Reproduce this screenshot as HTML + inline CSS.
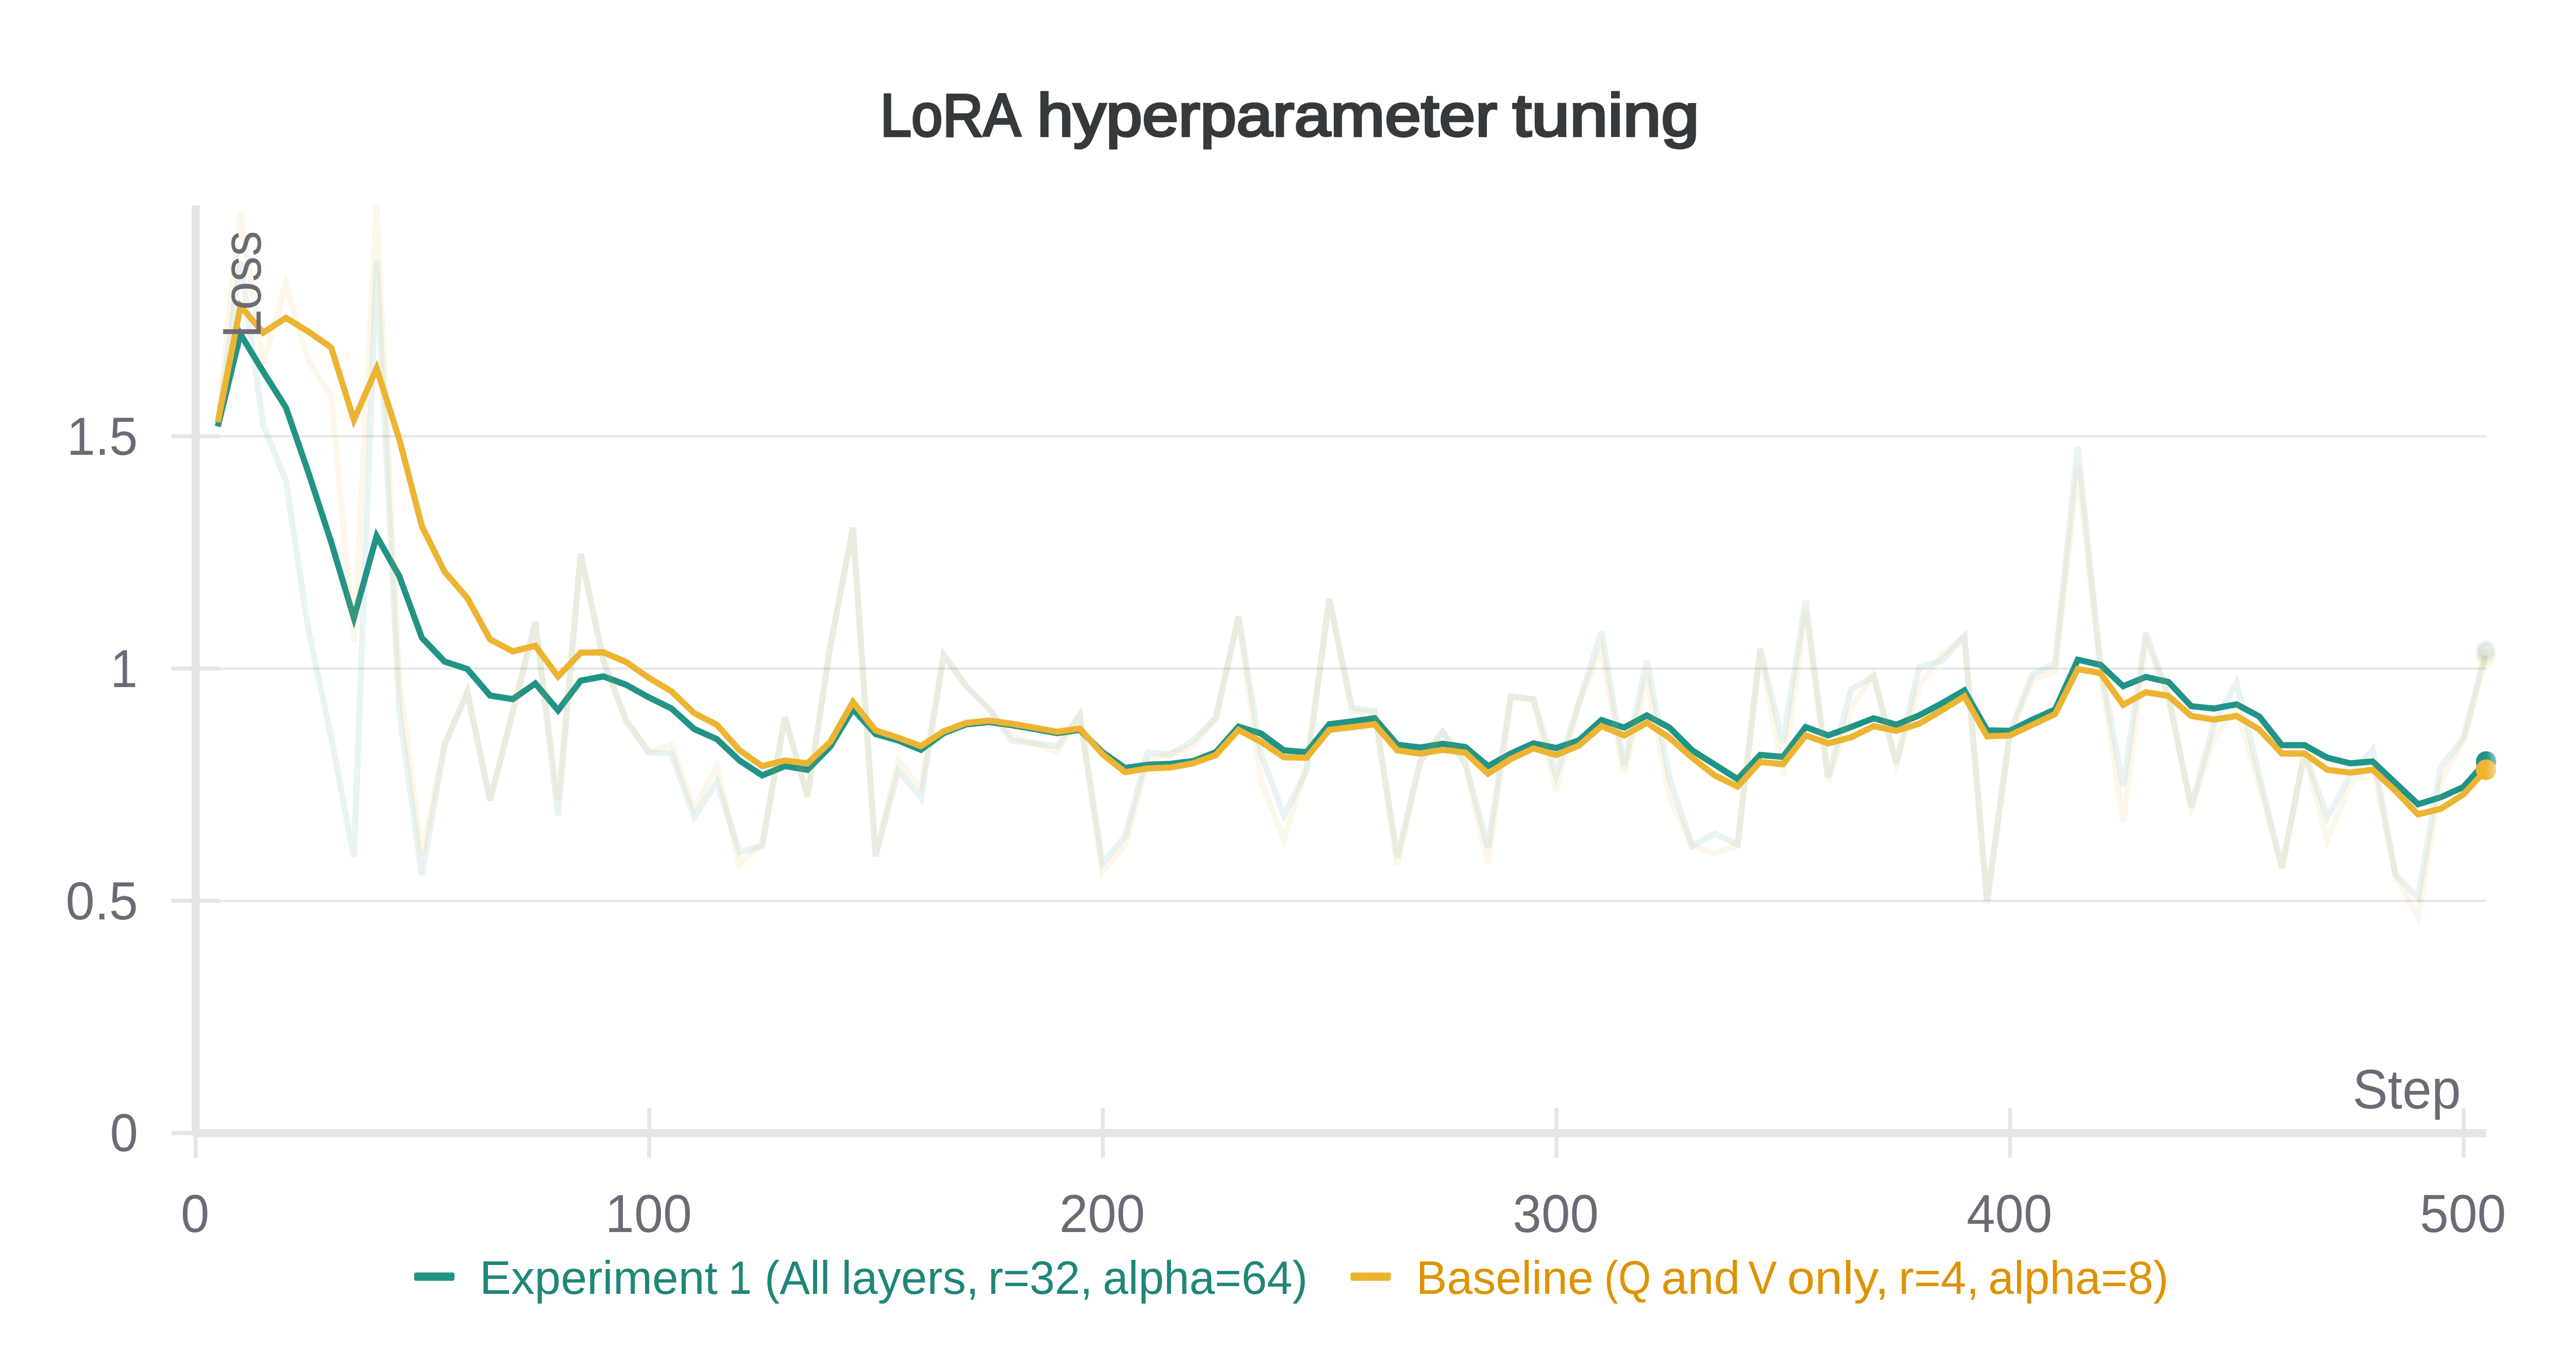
<!DOCTYPE html>
<html><head><meta charset="utf-8"><style>
html,body{margin:0;padding:0;background:#fff;overflow:hidden;width:100%;height:100%;}
svg{display:block;font-family:'Liberation Sans', sans-serif;width:100vw;height:100vh;}
</style></head><body>
<svg width="5056" height="2656" viewBox="0 0 5056 2656" preserveAspectRatio="none">
<rect width="5056" height="2656" fill="#fff"/>
<rect x="392" y="1746.6" width="4488" height="4.8" fill="#e8e8ea"/>
<rect x="392" y="1295.6" width="4488" height="4.8" fill="#e8e8ea"/>
<rect x="392" y="844.6" width="4488" height="4.8" fill="#e8e8ea"/>
<rect x="336" y="2196.0" width="96" height="8" fill="#e6e6e9"/>
<rect x="336" y="1745.0" width="96" height="8" fill="#e6e6e9"/>
<rect x="336" y="1294.0" width="96" height="8" fill="#e6e6e9"/>
<rect x="336" y="843.0" width="96" height="8" fill="#e6e6e9"/>
<rect x="380.1" y="2151" width="7.8" height="97" fill="#e6e6e9"/>
<rect x="1270.4" y="2151" width="7.8" height="97" fill="#e6e6e9"/>
<rect x="2160.7" y="2151" width="7.8" height="97" fill="#e6e6e9"/>
<rect x="3051.0" y="2151" width="7.8" height="97" fill="#e6e6e9"/>
<rect x="3941.3" y="2151" width="7.8" height="97" fill="#e6e6e9"/>
<rect x="4831.6" y="2151" width="7.8" height="97" fill="#e6e6e9"/>
<rect x="376" y="399" width="16" height="1805" fill="#e6e6e9"/>
<rect x="380" y="2192" width="4500" height="16" fill="#e6e6e9"/>
<defs><clipPath id="pc"><rect x="392" y="399" width="4600" height="1793"/></clipPath></defs>
<g clip-path="url(#pc)" fill="none" stroke-width="12" stroke-linejoin="miter" stroke-miterlimit="4">
<path d="M427.5 828.1 L472.0 506.9 L516.6 825.4 L561.1 933.6 L605.6 1224.0 L650.1 1431.5 L694.6 1664.2 L739.2 506.9 L783.7 1381.0 L828.2 1698.5 L872.7 1445.9 L917.2 1344.0 L961.8 1554.2 L1006.3 1381.9 L1050.8 1207.8 L1095.3 1583.0 L1139.8 1075.2 L1184.4 1282.7 L1228.9 1399.0 L1273.4 1460.4 L1317.9 1463.1 L1362.4 1586.6 L1407.0 1518.1 L1451.5 1654.3 L1496.0 1642.6 L1540.5 1392.7 L1585.0 1546.1 L1629.6 1254.7 L1674.1 1024.7 L1718.6 1662.4 L1763.1 1496.4 L1807.6 1548.8 L1852.2 1271.8 L1896.7 1332.3 L1941.2 1376.5 L1985.7 1437.8 L2030.2 1443.2 L2074.8 1448.6 L2119.3 1388.2 L2163.8 1675.9 L2208.3 1623.6 L2252.8 1460.4 L2297.4 1464.9 L2341.9 1437.8 L2386.4 1393.6 L2430.9 1197.0 L2475.4 1464.9 L2520.0 1583.0 L2564.5 1496.4 L2609.0 1162.7 L2653.5 1373.8 L2698.0 1381.0 L2742.6 1665.1 L2787.1 1479.3 L2831.6 1420.7 L2876.1 1482.9 L2920.6 1645.3 L2965.2 1352.1 L3009.7 1357.5 L3054.2 1504.6 L3098.7 1365.7 L3143.2 1226.7 L3187.8 1487.4 L3232.3 1282.7 L3276.8 1510.0 L3321.3 1642.6 L3365.8 1618.2 L3410.4 1639.9 L3454.9 1260.1 L3499.4 1442.3 L3543.9 1166.3 L3588.4 1510.0 L3633.0 1338.6 L3677.5 1313.3 L3722.0 1482.9 L3766.5 1296.2 L3811.0 1282.7 L3855.6 1235.8 L3900.1 1749.0 L3944.6 1422.5 L3989.1 1309.7 L4033.6 1288.1 L4078.2 866.8 L4122.7 1293.5 L4167.2 1526.2 L4211.7 1229.4 L4256.2 1352.1 L4300.8 1567.7 L4345.3 1404.4 L4389.8 1325.1 L4434.3 1505.5 L4478.8 1685.0 L4523.4 1460.4 L4567.9 1587.5 L4612.4 1505.5 L4656.9 1454.9 L4701.4 1698.5 L4746.0 1742.7 L4790.5 1488.3 L4835.0 1433.3 L4879.5 1263.7" stroke="#229487" stroke-opacity="0.1"/>
<path d="M427.5 828.1 L472.0 648.6 L516.6 721.6 L561.1 791.1 L605.6 918.3 L650.1 1052.7 L694.6 1199.7 L739.2 1040.9 L783.7 1118.5 L828.2 1238.5 L872.7 1284.5 L917.2 1298.9 L961.8 1350.3 L1006.3 1357.5 L1050.8 1326.9 L1095.3 1379.2 L1139.8 1321.5 L1184.4 1313.3 L1228.9 1329.6 L1273.4 1353.9 L1317.9 1375.6 L1362.4 1415.3 L1407.0 1435.1 L1451.5 1476.6 L1496.0 1505.5 L1540.5 1487.4 L1585.0 1494.6 L1629.6 1449.5 L1674.1 1376.5 L1718.6 1425.2 L1763.1 1437.8 L1807.6 1455.8 L1852.2 1423.4 L1896.7 1406.2 L1941.2 1401.7 L1985.7 1408.0 L2030.2 1415.3 L2074.8 1423.4 L2119.3 1417.1 L2163.8 1460.4 L2208.3 1491.0 L2252.8 1484.7 L2297.4 1482.9 L2341.9 1477.5 L2386.4 1460.4 L2430.9 1410.8 L2475.4 1424.3 L2520.0 1456.8 L2564.5 1460.4 L2609.0 1406.2 L2653.5 1400.8 L2698.0 1394.5 L2742.6 1445.9 L2787.1 1451.3 L2831.6 1444.1 L2876.1 1450.4 L2920.6 1487.4 L2965.2 1463.1 L3009.7 1443.2 L3054.2 1452.2 L3098.7 1437.8 L3143.2 1398.1 L3187.8 1412.6 L3232.3 1389.1 L3276.8 1412.6 L3321.3 1456.8 L3365.8 1484.7 L3410.4 1512.7 L3454.9 1465.8 L3499.4 1469.4 L3543.9 1411.7 L3588.4 1427.9 L3633.0 1411.7 L3677.5 1394.5 L3722.0 1407.1 L3766.5 1389.1 L3811.0 1365.7 L3855.6 1340.4 L3900.1 1418.0 L3944.6 1418.9 L3989.1 1397.2 L4033.6 1377.4 L4078.2 1280.9 L4122.7 1290.8 L4167.2 1332.3 L4211.7 1314.2 L4256.2 1324.2 L4300.8 1371.1 L4345.3 1375.6 L4389.8 1367.5 L4434.3 1390.9 L4478.8 1446.8 L4523.4 1446.8 L4567.9 1471.2 L4612.4 1482.0 L4656.9 1478.4 L4701.4 1519.9 L4746.0 1561.4 L4790.5 1547.9 L4835.0 1528.0 L4879.5 1478.4" stroke="#229487"/>
<path d="M427.5 819.9 L472.0 411.3 L516.6 706.3 L561.1 551.1 L605.6 700.9 L650.1 767.6 L694.6 1246.6 L739.2 399.6 L783.7 1324.2 L828.2 1657.9 L872.7 1445.9 L917.2 1344.0 L961.8 1554.2 L1006.3 1381.9 L1050.8 1207.8 L1095.3 1553.3 L1139.8 1075.2 L1184.4 1282.7 L1228.9 1399.0 L1273.4 1460.4 L1317.9 1445.9 L1362.4 1569.5 L1407.0 1487.4 L1451.5 1678.6 L1496.0 1637.2 L1540.5 1392.7 L1585.0 1546.1 L1629.6 1254.7 L1674.1 1024.7 L1718.6 1662.4 L1763.1 1476.6 L1807.6 1531.6 L1852.2 1271.8 L1896.7 1332.3 L1941.2 1376.5 L1985.7 1429.7 L2030.2 1443.2 L2074.8 1460.4 L2119.3 1388.2 L2163.8 1693.1 L2208.3 1639.9 L2252.8 1473.9 L2297.4 1464.9 L2341.9 1448.6 L2386.4 1393.6 L2430.9 1197.0 L2475.4 1518.1 L2520.0 1629.0 L2564.5 1487.4 L2609.0 1162.7 L2653.5 1381.9 L2698.0 1381.0 L2742.6 1678.6 L2787.1 1479.3 L2831.6 1420.7 L2876.1 1482.9 L2920.6 1675.9 L2965.2 1352.1 L3009.7 1357.5 L3054.2 1535.2 L3098.7 1365.7 L3143.2 1260.1 L3187.8 1501.9 L3232.3 1316.0 L3276.8 1548.8 L3321.3 1642.6 L3365.8 1657.0 L3410.4 1639.9 L3454.9 1260.1 L3499.4 1505.5 L3543.9 1185.2 L3588.4 1518.1 L3633.0 1376.5 L3677.5 1307.9 L3722.0 1482.9 L3766.5 1332.3 L3811.0 1271.8 L3855.6 1235.8 L3900.1 1754.4 L3944.6 1428.8 L3989.1 1318.7 L4033.6 1304.3 L4078.2 908.3 L4122.7 1298.0 L4167.2 1595.7 L4211.7 1243.9 L4256.2 1352.1 L4300.8 1567.7 L4345.3 1431.5 L4389.8 1376.5 L4434.3 1523.5 L4478.8 1685.0 L4523.4 1460.4 L4567.9 1630.8 L4612.4 1523.5 L4656.9 1482.9 L4701.4 1698.5 L4746.0 1781.5 L4790.5 1515.4 L4835.0 1437.8 L4879.5 1274.5" stroke="#ecb431" stroke-opacity="0.1"/>
<path d="M427.5 819.9 L472.0 594.4 L516.6 645.9 L561.1 617.0 L605.6 644.0 L650.1 674.7 L694.6 815.4 L739.2 715.3 L783.7 852.4 L828.2 1022.0 L872.7 1110.4 L917.2 1160.9 L961.8 1241.2 L1006.3 1264.6 L1050.8 1253.8 L1095.3 1313.3 L1139.8 1267.3 L1184.4 1266.4 L1228.9 1285.4 L1273.4 1316.0 L1317.9 1342.2 L1362.4 1384.6 L1407.0 1407.1 L1451.5 1456.8 L1496.0 1487.4 L1540.5 1476.6 L1585.0 1482.0 L1629.6 1440.5 L1674.1 1362.9 L1718.6 1418.0 L1763.1 1432.4 L1807.6 1448.6 L1852.2 1419.8 L1896.7 1403.5 L1941.2 1399.0 L1985.7 1405.3 L2030.2 1412.6 L2074.8 1420.7 L2119.3 1414.4 L2163.8 1464.0 L2208.3 1499.1 L2252.8 1491.9 L2297.4 1490.1 L2341.9 1482.0 L2386.4 1465.8 L2430.9 1417.1 L2475.4 1440.5 L2520.0 1470.3 L2564.5 1471.2 L2609.0 1417.1 L2653.5 1411.7 L2698.0 1406.2 L2742.6 1456.8 L2787.1 1463.1 L2831.6 1455.8 L2876.1 1461.3 L2920.6 1501.9 L2965.2 1473.9 L3009.7 1453.1 L3054.2 1465.8 L3098.7 1447.7 L3143.2 1409.8 L3187.8 1427.9 L3232.3 1403.5 L3276.8 1432.4 L3321.3 1471.2 L3365.8 1505.5 L3410.4 1527.1 L3454.9 1479.3 L3499.4 1483.8 L3543.9 1427.9 L3588.4 1443.2 L3633.0 1431.5 L3677.5 1409.8 L3722.0 1418.9 L3766.5 1405.3 L3811.0 1379.2 L3855.6 1352.1 L3900.1 1429.7 L3944.6 1427.9 L3989.1 1407.1 L4033.6 1386.4 L4078.2 1298.9 L4122.7 1307.0 L4167.2 1368.4 L4211.7 1344.0 L4256.2 1351.2 L4300.8 1390.0 L4345.3 1397.2 L4389.8 1390.0 L4434.3 1416.2 L4478.8 1463.1 L4523.4 1463.1 L4567.9 1494.6 L4612.4 1500.0 L4656.9 1494.6 L4701.4 1535.2 L4746.0 1581.2 L4790.5 1570.4 L4835.0 1542.4 L4879.5 1494.6" stroke="#ecb431"/>
</g>
<circle cx="4879.5" cy="1263.7" r="20" fill="#229487" fill-opacity="0.1"/>
<circle cx="4879.5" cy="1263.7" r="13" fill="none" stroke="#229487" stroke-width="6" stroke-opacity="0.1"/>
<circle cx="4879.5" cy="1274.5" r="20" fill="#ecb431" fill-opacity="0.1"/>
<circle cx="4879.5" cy="1274.5" r="13" fill="none" stroke="#ecb431" stroke-width="6" stroke-opacity="0.1"/>
<circle cx="4879.5" cy="1478.4" r="20" fill="#229487"/>
<circle cx="4879.5" cy="1494.6" r="20" fill="#ecb431"/>
<defs><linearGradient id="fade" x1="0" x2="1" y1="0" y2="0"><stop offset="0" stop-color="#fff" stop-opacity="0"/><stop offset="1" stop-color="#fff" stop-opacity="0.55"/></linearGradient></defs>
<rect x="4880" y="1200" width="22" height="340" fill="url(#fade)"/>
<text x="131.1" y="883" font-size="103" fill="#6b6b76" text-anchor="start" font-weight="normal" textLength="139.4" lengthAdjust="spacingAndGlyphs">1.5</text>
<text x="217.0" y="1334" font-size="103" fill="#6b6b76" text-anchor="start" font-weight="normal" textLength="53.0" lengthAdjust="spacingAndGlyphs">1</text>
<text x="129.0" y="1785" font-size="103" fill="#6b6b76" text-anchor="start" font-weight="normal" textLength="142.0" lengthAdjust="spacingAndGlyphs">0.5</text>
<text x="216.0" y="2235" font-size="103" fill="#6b6b76" text-anchor="start" font-weight="normal" textLength="55.0" lengthAdjust="spacingAndGlyphs">0</text>
<text x="355.0" y="2392" font-size="103" fill="#6b6b76" text-anchor="start" font-weight="normal" textLength="56.0" lengthAdjust="spacingAndGlyphs">0</text>
<text x="1188.0" y="2392" font-size="103" fill="#6b6b76" text-anchor="start" font-weight="normal" textLength="170.0" lengthAdjust="spacingAndGlyphs">100</text>
<text x="2079.2" y="2392" font-size="103" fill="#6b6b76" text-anchor="start" font-weight="normal" textLength="168.1" lengthAdjust="spacingAndGlyphs">200</text>
<text x="2969.2" y="2392" font-size="103" fill="#6b6b76" text-anchor="start" font-weight="normal" textLength="168.6" lengthAdjust="spacingAndGlyphs">300</text>
<text x="3860.0" y="2392" font-size="103" fill="#6b6b76" text-anchor="start" font-weight="normal" textLength="168.0" lengthAdjust="spacingAndGlyphs">400</text>
<text x="4749.5" y="2392" font-size="103" fill="#6b6b76" text-anchor="start" font-weight="normal" textLength="169.2" lengthAdjust="spacingAndGlyphs">500</text>
<text x="4617.6" y="2152" font-size="108" fill="#6b6b76" text-anchor="start" font-weight="normal" textLength="212.5" lengthAdjust="spacingAndGlyphs">Step</text>
<g transform="translate(512 656.6) rotate(-90)"><text x="0" y="0" font-size="107" fill="#6b6b76" text-anchor="start" font-weight="normal" textLength="208.3" lengthAdjust="spacingAndGlyphs">Loss</text></g>
<text x="1727.65" y="264" font-size="116.5" fill="#35393c" text-anchor="start" font-weight="normal" textLength="275.7" lengthAdjust="spacingAndGlyphs" stroke="#35393c" stroke-width="4.5" stroke-linejoin="miter" stroke-miterlimit="3">LoRA</text>
<text x="2035.65" y="264" font-size="116.5" fill="#35393c" text-anchor="start" font-weight="normal" textLength="902.7" lengthAdjust="spacingAndGlyphs" stroke="#35393c" stroke-width="4.5" stroke-linejoin="miter" stroke-miterlimit="3">hyperparameter</text>
<text x="2968.65" y="264" font-size="116.5" fill="#35393c" text-anchor="start" font-weight="normal" textLength="366.7" lengthAdjust="spacingAndGlyphs" stroke="#35393c" stroke-width="4.5" stroke-linejoin="miter" stroke-miterlimit="3">tuning</text>
<text x="941.51" y="2512" font-size="91.5" fill="#1f8679" text-anchor="start" font-weight="normal" textLength="466.98" lengthAdjust="spacingAndGlyphs">Experiment</text>
<text x="1429.51" y="2512" font-size="91.5" fill="#1f8679" text-anchor="start" font-weight="normal" textLength="45.98" lengthAdjust="spacingAndGlyphs">1</text>
<text x="1500.51" y="2512" font-size="91.5" fill="#1f8679" text-anchor="start" font-weight="normal" textLength="128.98" lengthAdjust="spacingAndGlyphs">(All</text>
<text x="1651.51" y="2512" font-size="91.5" fill="#1f8679" text-anchor="start" font-weight="normal" textLength="269.98" lengthAdjust="spacingAndGlyphs">layers,</text>
<text x="1939.51" y="2512" font-size="91.5" fill="#1f8679" text-anchor="start" font-weight="normal" textLength="204.98" lengthAdjust="spacingAndGlyphs">r=32,</text>
<text x="2164.51" y="2512" font-size="91.5" fill="#1f8679" text-anchor="start" font-weight="normal" textLength="401.98" lengthAdjust="spacingAndGlyphs">alpha=64)</text>
<text x="2779.51" y="2512" font-size="91.5" fill="#dd9302" text-anchor="start" font-weight="normal" textLength="347.98" lengthAdjust="spacingAndGlyphs">Baseline</text>
<text x="3148.51" y="2512" font-size="91.5" fill="#dd9302" text-anchor="start" font-weight="normal" textLength="91.98" lengthAdjust="spacingAndGlyphs">(Q</text>
<text x="3260.51" y="2512" font-size="91.5" fill="#dd9302" text-anchor="start" font-weight="normal" textLength="154.98" lengthAdjust="spacingAndGlyphs">and</text>
<text x="3431.51" y="2512" font-size="91.5" fill="#dd9302" text-anchor="start" font-weight="normal" textLength="55.98" lengthAdjust="spacingAndGlyphs">V</text>
<text x="3507.51" y="2512" font-size="91.5" fill="#dd9302" text-anchor="start" font-weight="normal" textLength="199.98" lengthAdjust="spacingAndGlyphs">only,</text>
<text x="3726.51" y="2512" font-size="91.5" fill="#dd9302" text-anchor="start" font-weight="normal" textLength="157.98" lengthAdjust="spacingAndGlyphs">r=4,</text>
<text x="3902.51" y="2512" font-size="91.5" fill="#dd9302" text-anchor="start" font-weight="normal" textLength="353.98" lengthAdjust="spacingAndGlyphs">alpha=8)</text>
<rect x="812.8" y="2470.5" width="79.2" height="16.3" rx="4" fill="#229487"/>
<rect x="2650.7" y="2470.5" width="79.3" height="16.3" rx="4" fill="#ecb431"/>
</svg>
</body></html>
